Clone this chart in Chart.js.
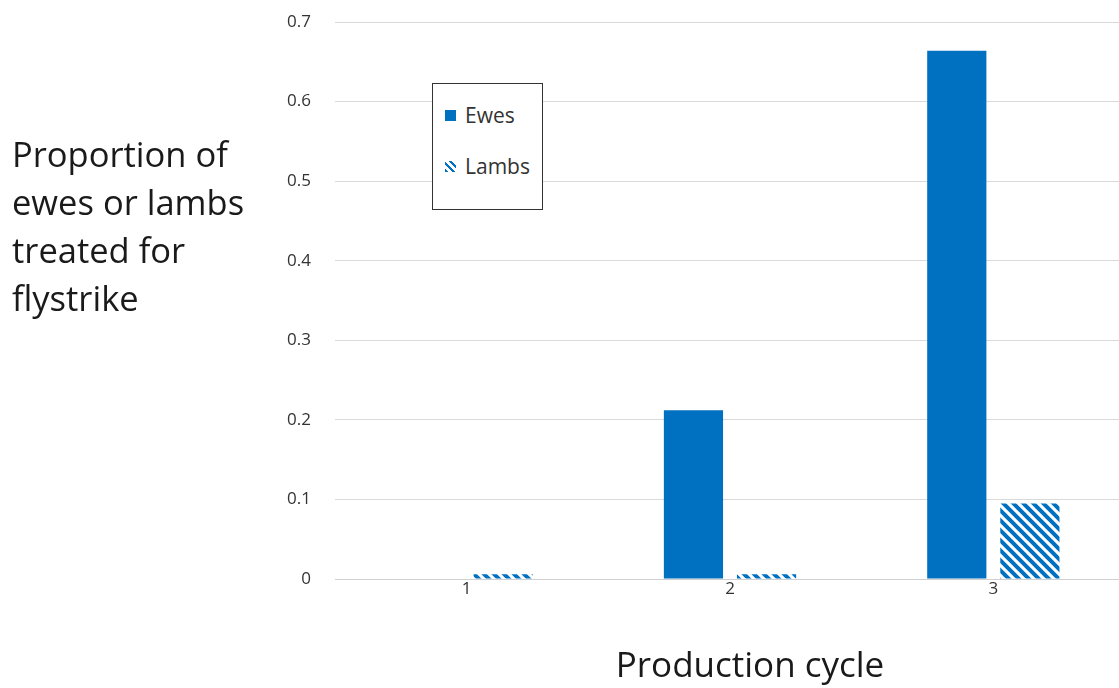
<!DOCTYPE html>
<html lang="en">
<head>
    <meta charset="UTF-8">
    <title>Flystrike treatment by production cycle</title>
    <script src="https://cdn.jsdelivr.net/npm/chart.js@4.4.1/dist/chart.umd.min.js"></script>
    <style>
        html, body {
            margin: 0;
            padding: 0;
            background: #fff;
            overflow: hidden;
            font-family: "Open Sans", sans-serif;
        }
        #wrap {
            position: relative;
            width: 1125px;
            height: 688px;
        }
        canvas { display: block; }
        #yTitle {
            position: absolute;
            left: 12px;
            top: 130px;
            font-size: 34.5px;
            line-height: 48px;
            color: #1a1a1a;
        }
        #xTitle {
            position: absolute;
            left: 0;
            width: 1500px;
            top: 640px;
            text-align: center;
            font-size: 35px;
            color: #1a1a1a;
        }
        #legend {
            position: absolute;
            left: 432px;
            top: 83px;
            width: 111px;
            height: 127px;
            border: 1.5px solid #333;
            box-sizing: border-box;
            background: #fff;
            font-size: 21px;
            color: #333;
        }
        .item {
            position: absolute;
            left: 12px;
            display: flex;
            align-items: center;
        }
        .sw {
            width: 11px;
            height: 11px;
            margin-right: 9px;
        }
    </style>
</head>
<body>
<div id="wrap">
    <canvas id="chart" width="1125" height="688"></canvas>
    <div id="yTitle">Proportion of<br>ewes or lambs<br>treated for<br>flystrike</div>
    <div id="xTitle">Production cycle</div>
    <div id="legend">
        <div class="item" style="top:17px"><span class="sw" style="background:#0070C0"></span>Ewes</div>
        <div class="item" style="top:68px"><span class="sw" id="lambSw"></span>Lambs</div>
    </div>
</div>

<script>
    // data
    const cycles = ['1', '2', '3'];
    const ewes = [0, 0.212, 0.664];
    const lambs = [0.006, 0.006, 0.095];

    const blue = '#0070C0';

    // diagonal hatch (\) for lambs
    function makeHatch(size) {
        const c = document.createElement('canvas');
        c.width = size;
        c.height = size;
        const g = c.getContext('2d');
        g.strokeStyle = blue;
        g.lineWidth = 4;
        g.beginPath();
        g.moveTo(-size, 0); g.lineTo(size, 2 * size);
        g.moveTo(0, 0); g.lineTo(size, size);
        g.moveTo(0, -size); g.lineTo(2 * size, size);
        g.stroke();
        return c;
    }
    const hatchCanvas = makeHatch(10);
    const ctx = document.getElementById('chart').getContext('2d');
    const hatch = ctx.createPattern(hatchCanvas, 'repeat');

    document.getElementById('lambSw').style.background =
        'repeating-linear-gradient(45deg, ' + blue + ' 0 2.5px, #fff 2.5px 5px)';

    new Chart(ctx, {
        type: 'bar',
        data: {
            labels: cycles,
            datasets: [
                { label: 'Ewes', data: ewes, backgroundColor: blue },
                { label: 'Lambs', data: lambs, backgroundColor: hatch }
            ]
        },
        options: {
            responsive: false,
            animation: false,
            layout: { padding: { left: 255, top: 22, right: 0, bottom: 0 } },
            datasets: {
                bar: { categoryPercentage: 0.555, barPercentage: 0.81 }
            },
            plugins: {
                legend: { display: false },
                tooltip: { enabled: false }
            },
            scales: {
                x: {
                    grid: { display: false, drawTicks: false },
                    border: { color: '#d0d0d0', width: 1 },
                    ticks: {
                        padding: 0,
                        color: '#333',
                        font: { family: 'Open Sans', size: 17 }
                    },
                    afterFit: (s) => { s.height = 109; }
                },
                y: {
                    min: 0,
                    max: 0.7,
                    grid: { color: '#d9d9d9', drawTicks: false },
                    border: { display: false },
                    ticks: {
                        stepSize: 0.1,
                        padding: 24,
                        color: '#333',
                        font: { family: 'Open Sans', size: 17 },
                        callback: (v) => v === 0 ? '0' : v.toFixed(1)
                    },
                    afterFit: (s) => {
                        s.width = 80;
                        s.paddingTop = 0;
                        s.paddingBottom = 0;
                    }
                }
            }
        }
    });
</script>
</body>
</html>
